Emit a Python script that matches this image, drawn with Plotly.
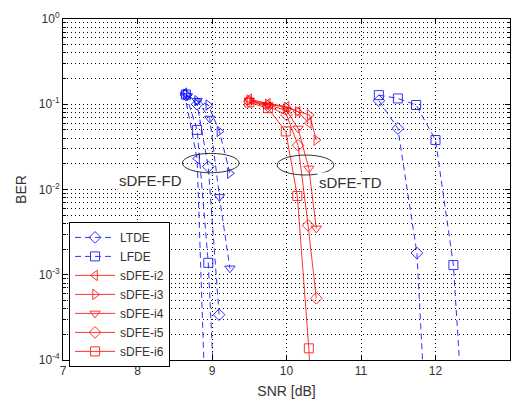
import plotly.graph_objects as go

# ---- data ----
ltde_snr = [11.24, 11.495, 11.75, 11.9]
ltde_ber = [0.11, 0.052, 0.0018, 6e-6]
lfde_snr = [11.24, 11.495, 11.74, 12.0, 12.24, 12.4]
lfde_ber = [0.128, 0.117, 0.098, 0.038, 0.0013, 8e-6]

td_i2_snr = [9.5, 9.75, 10.0, 10.15, 10.3]
td_i2_ber = [0.115, 0.102, 0.094, 0.082, 0.06]
td_i3_snr = [9.5, 9.75, 10.0, 10.15, 10.31, 10.4]
td_i3_ber = [0.112, 0.1, 0.092, 0.082, 0.075, 0.038]
td_i4_snr = [9.5, 9.75, 10.0, 10.155, 10.3, 10.4]
td_i4_ber = [0.11, 0.098, 0.085, 0.052, 0.0177, 0.0035]
td_i5_snr = [9.5, 9.75, 10.0, 10.155, 10.29, 10.4]
td_i5_ber = [0.108, 0.095, 0.075, 0.033, 0.0038, 0.00053]
td_i6_snr = [9.5, 9.75, 9.99, 10.145, 10.3, 10.35]
td_i6_ber = [0.105, 0.09, 0.048, 0.0084, 0.000137, 1e-5]

fd_i2_snr = [8.63, 8.8, 8.95]
fd_i2_ber = [0.135, 0.023, 2.7e-6]
fd_i3_snr = [8.65, 8.8, 8.95, 9.1, 9.24]
fd_i3_ber = [0.13, 0.11, 0.098, 0.048, 0.0155]
fd_i4_snr = [8.67, 8.8, 8.97, 9.1, 9.24]
fd_i4_ber = [0.125, 0.11, 0.068, 0.0082, 0.00119]
fd_i5_snr = [8.65, 8.8, 8.95, 9.095]
fd_i5_ber = [0.128, 0.1, 0.0185, 0.00034]
fd_i6_snr = [8.65, 8.8, 8.95, 9.1]
fd_i6_ber = [0.13, 0.05, 0.00138, 2e-6]

x_ticks = [7, 8, 9, 10, 11, 12, 13]
y_tickvals = [1e-4, 1e-3, 1e-2, 1e-1, 1]
y_ticktext = ["10<sup>-4</sup>", "10<sup>-3</sup>", "10<sup>-2</sup>", "10<sup>-1</sup>", "10<sup>0</sup>"]
y_minor_vals = [m * d for d in (1e-4, 1e-3, 1e-2, 1e-1) for m in range(2, 10)]

BLUE = "#0000ff"
RED = "#ff0000"
DASH = "6px,4px"
GRIDDASH = "1px,3px"

fig = go.Figure()

def add(x, y, name, color, dash, symbol, legend=True):
    fig.add_trace(go.Scatter(
        x=x, y=y, name=name, mode="lines+markers", showlegend=legend,
        line=dict(color=color, width=1, dash=dash),
        marker=dict(symbol=symbol, size=9, color=color, line=dict(width=1, color=color)),
        opacity=0.8,
    ))

add(ltde_snr, ltde_ber, "LTDE", BLUE, DASH, "diamond-open")
add(lfde_snr, lfde_ber, "LFDE", BLUE, DASH, "square-open")
add(td_i2_snr, td_i2_ber, "sDFE-i2", RED, "solid", "triangle-left-open")
add(td_i3_snr, td_i3_ber, "sDFE-i3", RED, "solid", "triangle-right-open")
add(td_i4_snr, td_i4_ber, "sDFE-i4", RED, "solid", "triangle-down-open")
add(td_i5_snr, td_i5_ber, "sDFE-i5", RED, "solid", "diamond-open")
add(td_i6_snr, td_i6_ber, "sDFE-i6", RED, "solid", "square-open")

add(fd_i2_snr, fd_i2_ber, "FD-i2", BLUE, DASH, "triangle-left-open", False)
add(fd_i3_snr, fd_i3_ber, "FD-i3", BLUE, DASH, "triangle-right-open", False)
add(fd_i4_snr, fd_i4_ber, "FD-i4", BLUE, DASH, "triangle-down-open", False)
add(fd_i5_snr, fd_i5_ber, "FD-i5", BLUE, DASH, "diamond-open", False)
add(fd_i6_snr, fd_i6_ber, "FD-i6", BLUE, DASH, "square-open", False)

# ellipses marking the two groups (paper coordinates)
fig.add_shape(type="circle", xref="paper", yref="paper", x0=0.267, x1=0.394, y0=0.549, y1=0.606,
              line=dict(color="#333333", width=1))
fig.add_shape(type="circle", xref="paper", yref="paper", x0=0.479, x1=0.606, y0=0.5425, y1=0.601,
              line=dict(color="#333333", width=1))

fig.add_annotation(x=8.17, y=-1.90, text="sDFE-FD", showarrow=False,
                   font=dict(size=15, color="#333333"), bgcolor="white")
fig.add_annotation(x=10.86, y=-1.92, text="sDFE-TD", showarrow=False,
                   font=dict(size=15, color="#333333"), bgcolor="white")

fig.update_layout(
    width=513, height=408,
    margin=dict(l=63, r=3, t=19, b=48),
    paper_bgcolor="white", plot_bgcolor="white",
    font=dict(family="Liberation Sans, Arial, sans-serif", size=12, color="#333333"),
    showlegend=True,
    legend=dict(x=0.0135, y=0.405, xanchor="left", yanchor="top",
                bgcolor="white", bordercolor="black", borderwidth=1,
                font=dict(size=12), tracegroupgap=0, itemwidth=40),
)
fig.update_xaxes(
    range=[7, 13], tickvals=x_ticks, ticks="inside", ticklen=5, tickcolor="black",
    showline=True, linecolor="black", linewidth=1, mirror="ticks",
    showgrid=True, gridcolor="black", griddash=GRIDDASH, gridwidth=1,
    zeroline=False, automargin=False,
    title=dict(text="SNR [dB]", font=dict(size=14), standoff=8),
)
fig.update_yaxes(
    type="log", range=[-4, 0], tickvals=y_tickvals, ticktext=y_ticktext,
    ticks="inside", ticklen=5, tickcolor="black",
    showline=True, linecolor="black", linewidth=1, mirror="ticks",
    showgrid=True, gridcolor="black", griddash=GRIDDASH, gridwidth=1,
    minor=dict(tickmode="array", tickvals=y_minor_vals, ticks="inside", ticklen=3,
               tickcolor="black", showgrid=True,
               gridcolor="black", griddash=GRIDDASH, gridwidth=1),
    zeroline=False, automargin=False,
    title=dict(text="BER", font=dict(size=14), standoff=8),
)

fig.write_html("out.html", config={"displayModeBar": False},
               post_script="document.body.style.margin='0';document.body.style.padding='0';")
